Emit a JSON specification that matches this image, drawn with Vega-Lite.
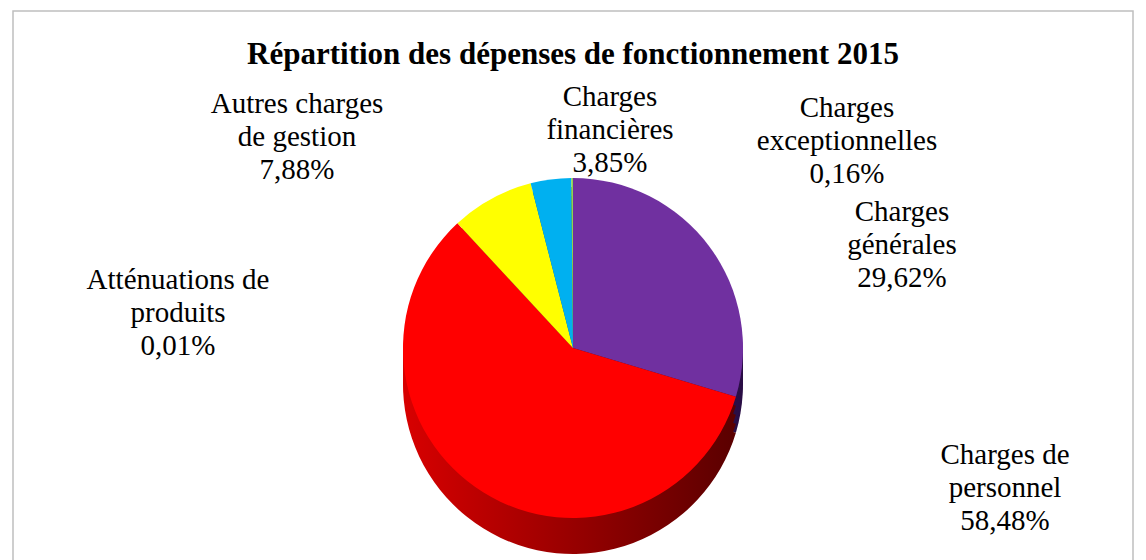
{
  "$schema": "https://vega.github.io/schema/vega-lite/v6.json",
  "width": 1146,
  "height": 560,
  "autosize": {"type": "fit", "contains": "padding"},
  "padding": {"left": 12, "right": 12, "top": 10, "bottom": -126},
  "background": "white",
  "title": {
    "text": "Répartition des dépenses de fonctionnement 2015",
    "font": "Liberation Serif",
    "fontSize": 31,
    "fontWeight": "bold",
    "color": "black",
    "offset": -61,
    "anchor": "middle"
  },
  "config": {"view": {"stroke": null}},
  "data": {
    "values": [
      {"i": 1, "cat": "Charges générales", "value": 29.62, "label": "Charges\ngénérales\n29,62%"},
      {"i": 2, "cat": "Charges de personnel", "value": 58.48, "label": "Charges de\npersonnel\n58,48%"},
      {"i": 3, "cat": "Atténuations de produits", "value": 0.01, "label": "Atténuations de\nproduits\n0,01%"},
      {"i": 4, "cat": "Autres charges de gestion", "value": 7.88, "label": "Autres charges\nde gestion\n7,88%"},
      {"i": 5, "cat": "Charges financières", "value": 3.85, "label": "Charges\nfinancières\n3,85%"},
      {"i": 6, "cat": "Charges exceptionnelles", "value": 0.16, "label": "Charges\nexceptionnelles\n0,16%"}
    ]
  },
  "layer": [
    {
      "transform": [{"filter": "datum.i === 1"}],
      "mark": {"type": "rect", "fill": null, "stroke": "#BFBFBF", "strokeWidth": 1.5},
      "encoding": {}
    },
    {
      "mark": {"type": "arc", "outerRadius": 170, "yOffset": 36},
      "encoding": {
        "theta": {"field": "value", "type": "quantitative", "stack": true},
        "order": {"field": "i", "type": "quantitative"},
        "fill": {
          "condition": {"test": "datum.cat === 'Charges de personnel'", "value": {"gradient": "linear", "x1": 0, "y1": 0, "x2": 1, "y2": 0, "stops": [{"offset": 0, "color": "#D80000"}, {"offset": 1, "color": "#5A0000"}]}},
          "field": "cat", "type": "nominal", "legend": null,
          "scale": {"domain": ["Charges générales", "Charges de personnel", "Atténuations de produits", "Autres charges de gestion", "Charges financières", "Charges exceptionnelles"],
                    "range": ["#2A0E45", "#8A0000", "#1F3A6B", "#8A8A00", "#005A80", "#4A6A28"]}
        }
      }
    },
    {
      "mark": {"type": "arc", "outerRadius": 170, "yOffset": 27},
      "encoding": {
        "theta": {"field": "value", "type": "quantitative", "stack": true},
        "order": {"field": "i", "type": "quantitative"},
        "fill": {
          "condition": {"test": "datum.cat === 'Charges de personnel'", "value": {"gradient": "linear", "x1": 0, "y1": 0, "x2": 1, "y2": 0, "stops": [{"offset": 0, "color": "#D80000"}, {"offset": 1, "color": "#5A0000"}]}},
          "field": "cat", "type": "nominal", "legend": null
        }
      }
    },
    {
      "mark": {"type": "arc", "outerRadius": 170, "yOffset": 18},
      "encoding": {
        "theta": {"field": "value", "type": "quantitative", "stack": true},
        "order": {"field": "i", "type": "quantitative"},
        "fill": {
          "condition": {"test": "datum.cat === 'Charges de personnel'", "value": {"gradient": "linear", "x1": 0, "y1": 0, "x2": 1, "y2": 0, "stops": [{"offset": 0, "color": "#D80000"}, {"offset": 1, "color": "#5A0000"}]}},
          "field": "cat", "type": "nominal", "legend": null
        }
      }
    },
    {
      "mark": {"type": "arc", "outerRadius": 170, "yOffset": 9},
      "encoding": {
        "theta": {"field": "value", "type": "quantitative", "stack": true},
        "order": {"field": "i", "type": "quantitative"},
        "fill": {
          "condition": {"test": "datum.cat === 'Charges de personnel'", "value": {"gradient": "linear", "x1": 0, "y1": 0, "x2": 1, "y2": 0, "stops": [{"offset": 0, "color": "#D80000"}, {"offset": 1, "color": "#5A0000"}]}},
          "field": "cat", "type": "nominal", "legend": null
        }
      }
    },
    {
      "mark": {"type": "arc", "outerRadius": 170},
      "encoding": {
        "theta": {"field": "value", "type": "quantitative", "stack": true},
        "order": {"field": "i", "type": "quantitative"},
        "color": {
          "field": "cat", "type": "nominal", "legend": null,
          "scale": {"domain": ["Charges générales", "Charges de personnel", "Atténuations de produits", "Autres charges de gestion", "Charges financières", "Charges exceptionnelles"],
                    "range": ["#7030A0", "#FF0000", "#4472C4", "#FFFF00", "#00B0F0", "#92D050"]}
        }
      }
    },
    {
      "transform": [{"filter": "datum.cat === 'Charges générales'"}],
      "mark": {"type": "text", "font": "Liberation Serif", "fontSize": 29, "lineHeight": 33, "align": "center", "baseline": "middle", "color": "black", "lineBreak": "\n", "dx": 329, "dy": -136},
      "encoding": {"text": {"field": "label"}}
    },
    {
      "transform": [{"filter": "datum.cat === 'Charges de personnel'"}],
      "mark": {"type": "text", "font": "Liberation Serif", "fontSize": 29, "lineHeight": 33, "align": "center", "baseline": "middle", "color": "black", "lineBreak": "\n", "dx": 432, "dy": 107},
      "encoding": {"text": {"field": "label"}}
    },
    {
      "transform": [{"filter": "datum.cat === 'Atténuations de produits'"}],
      "mark": {"type": "text", "font": "Liberation Serif", "fontSize": 29, "lineHeight": 33, "align": "center", "baseline": "middle", "color": "black", "lineBreak": "\n", "dx": -395, "dy": -68},
      "encoding": {"text": {"field": "label"}}
    },
    {
      "transform": [{"filter": "datum.cat === 'Autres charges de gestion'"}],
      "mark": {"type": "text", "font": "Liberation Serif", "fontSize": 29, "lineHeight": 33, "align": "center", "baseline": "middle", "color": "black", "lineBreak": "\n", "dx": -276, "dy": -244},
      "encoding": {"text": {"field": "label"}}
    },
    {
      "transform": [{"filter": "datum.cat === 'Charges financières'"}],
      "mark": {"type": "text", "font": "Liberation Serif", "fontSize": 29, "lineHeight": 33, "align": "center", "baseline": "middle", "color": "black", "lineBreak": "\n", "dx": 37, "dy": -251},
      "encoding": {"text": {"field": "label"}}
    },
    {
      "transform": [{"filter": "datum.cat === 'Charges exceptionnelles'"}],
      "mark": {"type": "text", "font": "Liberation Serif", "fontSize": 29, "lineHeight": 33, "align": "center", "baseline": "middle", "color": "black", "lineBreak": "\n", "dx": 274, "dy": -240},
      "encoding": {"text": {"field": "label"}}
    }
  ]
}
